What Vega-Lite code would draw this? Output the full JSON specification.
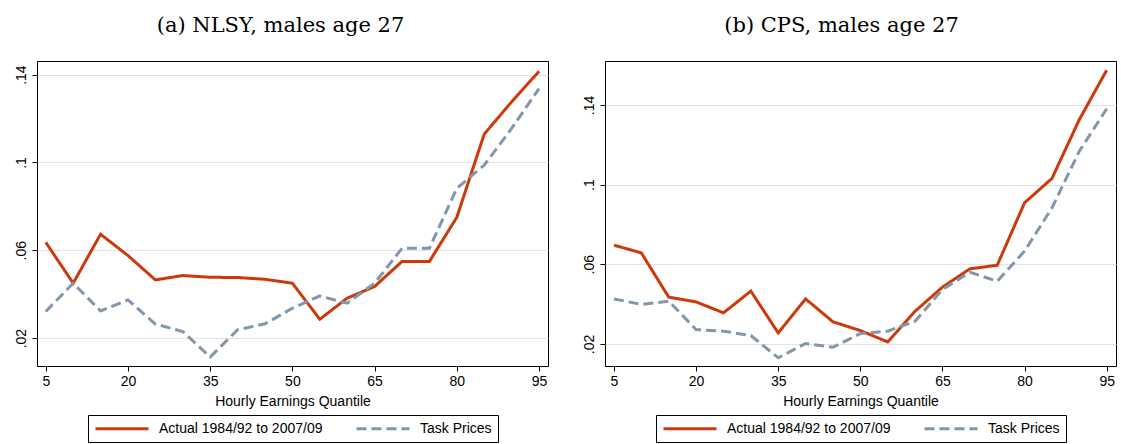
{
  "$schema": "https://vega.github.io/schema/vega-lite/v6.json",
  "padding": {"left": 13, "top": 14, "right": 2, "bottom": 0},
  "background": "white",
  "datasets": {
    "nlsy": [
      {"q": 5, "series": "Actual 1984/92 to 2007/09", "value": 0.0636},
      {"q": 10, "series": "Actual 1984/92 to 2007/09", "value": 0.045},
      {"q": 15, "series": "Actual 1984/92 to 2007/09", "value": 0.0673},
      {"q": 20, "series": "Actual 1984/92 to 2007/09", "value": 0.0576},
      {"q": 25, "series": "Actual 1984/92 to 2007/09", "value": 0.0465},
      {"q": 30, "series": "Actual 1984/92 to 2007/09", "value": 0.0485},
      {"q": 35, "series": "Actual 1984/92 to 2007/09", "value": 0.0477},
      {"q": 40, "series": "Actual 1984/92 to 2007/09", "value": 0.0476},
      {"q": 45, "series": "Actual 1984/92 to 2007/09", "value": 0.0468},
      {"q": 50, "series": "Actual 1984/92 to 2007/09", "value": 0.045},
      {"q": 55, "series": "Actual 1984/92 to 2007/09", "value": 0.0286},
      {"q": 60, "series": "Actual 1984/92 to 2007/09", "value": 0.0382},
      {"q": 65, "series": "Actual 1984/92 to 2007/09", "value": 0.0435},
      {"q": 70, "series": "Actual 1984/92 to 2007/09", "value": 0.0549},
      {"q": 75, "series": "Actual 1984/92 to 2007/09", "value": 0.0549},
      {"q": 80, "series": "Actual 1984/92 to 2007/09", "value": 0.075},
      {"q": 85, "series": "Actual 1984/92 to 2007/09", "value": 0.1129},
      {"q": 90, "series": "Actual 1984/92 to 2007/09", "value": 0.1276},
      {"q": 95, "series": "Actual 1984/92 to 2007/09", "value": 0.1415},
      {"q": 5, "series": "Task Prices", "value": 0.0321},
      {"q": 10, "series": "Task Prices", "value": 0.045},
      {"q": 15, "series": "Task Prices", "value": 0.0324},
      {"q": 20, "series": "Task Prices", "value": 0.0374},
      {"q": 25, "series": "Task Prices", "value": 0.0264},
      {"q": 30, "series": "Task Prices", "value": 0.023},
      {"q": 35, "series": "Task Prices", "value": 0.0114},
      {"q": 40, "series": "Task Prices", "value": 0.0238},
      {"q": 45, "series": "Task Prices", "value": 0.0265},
      {"q": 50, "series": "Task Prices", "value": 0.0336},
      {"q": 55, "series": "Task Prices", "value": 0.0392},
      {"q": 60, "series": "Task Prices", "value": 0.0359},
      {"q": 65, "series": "Task Prices", "value": 0.045},
      {"q": 70, "series": "Task Prices", "value": 0.0609},
      {"q": 75, "series": "Task Prices", "value": 0.0609},
      {"q": 80, "series": "Task Prices", "value": 0.0882},
      {"q": 85, "series": "Task Prices", "value": 0.0988},
      {"q": 90, "series": "Task Prices", "value": 0.1155},
      {"q": 95, "series": "Task Prices", "value": 0.1336}
    ],
    "cps": [
      {"q": 5, "series": "Actual 1984/92 to 2007/09", "value": 0.0696},
      {"q": 10, "series": "Actual 1984/92 to 2007/09", "value": 0.0657},
      {"q": 15, "series": "Actual 1984/92 to 2007/09", "value": 0.0435},
      {"q": 20, "series": "Actual 1984/92 to 2007/09", "value": 0.0411},
      {"q": 25, "series": "Actual 1984/92 to 2007/09", "value": 0.0356},
      {"q": 30, "series": "Actual 1984/92 to 2007/09", "value": 0.0465},
      {"q": 35, "series": "Actual 1984/92 to 2007/09", "value": 0.0255},
      {"q": 40, "series": "Actual 1984/92 to 2007/09", "value": 0.0426},
      {"q": 45, "series": "Actual 1984/92 to 2007/09", "value": 0.0311},
      {"q": 50, "series": "Actual 1984/92 to 2007/09", "value": 0.0267},
      {"q": 55, "series": "Actual 1984/92 to 2007/09", "value": 0.021},
      {"q": 60, "series": "Actual 1984/92 to 2007/09", "value": 0.0364},
      {"q": 65, "series": "Actual 1984/92 to 2007/09", "value": 0.0485},
      {"q": 70, "series": "Actual 1984/92 to 2007/09", "value": 0.0577},
      {"q": 75, "series": "Actual 1984/92 to 2007/09", "value": 0.0595},
      {"q": 80, "series": "Actual 1984/92 to 2007/09", "value": 0.0909},
      {"q": 85, "series": "Actual 1984/92 to 2007/09", "value": 0.1031},
      {"q": 90, "series": "Actual 1984/92 to 2007/09", "value": 0.1327},
      {"q": 95, "series": "Actual 1984/92 to 2007/09", "value": 0.1575},
      {"q": 5, "series": "Task Prices", "value": 0.0426},
      {"q": 10, "series": "Task Prices", "value": 0.0398},
      {"q": 15, "series": "Task Prices", "value": 0.0415},
      {"q": 20, "series": "Task Prices", "value": 0.0272},
      {"q": 25, "series": "Task Prices", "value": 0.0264},
      {"q": 30, "series": "Task Prices", "value": 0.0242},
      {"q": 35, "series": "Task Prices", "value": 0.013},
      {"q": 40, "series": "Task Prices", "value": 0.0202},
      {"q": 45, "series": "Task Prices", "value": 0.0183},
      {"q": 50, "series": "Task Prices", "value": 0.0252},
      {"q": 55, "series": "Task Prices", "value": 0.0264},
      {"q": 60, "series": "Task Prices", "value": 0.0314},
      {"q": 65, "series": "Task Prices", "value": 0.0473},
      {"q": 70, "series": "Task Prices", "value": 0.056},
      {"q": 75, "series": "Task Prices", "value": 0.0515},
      {"q": 80, "series": "Task Prices", "value": 0.0666},
      {"q": 85, "series": "Task Prices", "value": 0.0883},
      {"q": 90, "series": "Task Prices", "value": 0.1168},
      {"q": 95, "series": "Task Prices", "value": 0.1381}
    ]
  },
  "spacing": 57,
  "bounds": "flush",
  "resolve": {"scale": {"y": "independent"}, "legend": {"color": "independent", "strokeDash": "independent"}},
  "hconcat": [
    {
      "width": 511,
      "height": 305,
      "title": {"text": "(a) NLSY, males age 27", "dx": -12},
      "data": {"name": "nlsy"},
      "mark": {"type": "line", "strokeWidth": 3, "strokeCap": "butt", "strokeJoin": "miter"},
      "encoding": {
        "x": {"field": "q", "type": "quantitative", "title": "Hourly Earnings Quantile",
              "scale": {"domain": [3.4, 96.64], "nice": false, "zero": false},
              "axis": {"values": [5, 20, 35, 50, 65, 80, 95], "grid": false}},
        "y": {"field": "value", "type": "quantitative", "title": null,
              "scale": {"domain": [0.0073, 0.1462], "nice": false, "zero": false},
              "axis": {"values": [0.02, 0.06, 0.1, 0.14], "labelExpr": "substring(format(datum.value, '.2~f'), 1)"}},
        "color": {"field": "series", "type": "nominal", "scale": {"domain": ["Actual 1984/92 to 2007/09", "Task Prices"], "range": ["#CC3A0C", "#8296AC"]}, "legend": {"title": null}},
        "strokeDash": {"field": "series", "type": "nominal", "scale": {"domain": ["Actual 1984/92 to 2007/09", "Task Prices"], "range": [[1, 0], [10, 5]]}, "legend": {"title": null}}
      }
    },
    {
      "width": 511,
      "height": 305,
      "title": {"text": "(b) CPS, males age 27", "dx": -19},
      "data": {"name": "cps"},
      "mark": {"type": "line", "strokeWidth": 3, "strokeCap": "butt", "strokeJoin": "miter"},
      "encoding": {
        "x": {"field": "q", "type": "quantitative", "title": "Hourly Earnings Quantile",
              "scale": {"domain": [3.36, 96.7], "nice": false, "zero": false},
              "axis": {"values": [5, 20, 35, 50, 65, 80, 95], "grid": false}},
        "y": {"field": "value", "type": "quantitative", "title": null,
              "scale": {"domain": [0.0089, 0.1621], "nice": false, "zero": false},
              "axis": {"values": [0.02, 0.06, 0.1, 0.14], "labelExpr": "substring(format(datum.value, '.2~f'), 1)"}},
        "color": {"field": "series", "type": "nominal", "scale": {"domain": ["Actual 1984/92 to 2007/09", "Task Prices"], "range": ["#CC3A0C", "#8296AC"]}, "legend": {"title": null}},
        "strokeDash": {"field": "series", "type": "nominal", "scale": {"domain": ["Actual 1984/92 to 2007/09", "Task Prices"], "range": [[1, 0], [10, 5]]}, "legend": {"title": null}}
      }
    }
  ],
  "config": {
    "font": "Liberation Sans",
    "view": {"stroke": "#000000", "strokeWidth": 1},
    "title": {"font": "DejaVu Serif", "fontSize": 21, "fontWeight": "normal", "color": "#000000", "anchor": "middle", "baseline": "alphabetic", "offset": 25, "frame": "group"},
    "axis": {
      "domain": false,
      "tickColor": "#000000",
      "tickSize": 5,
      "tickWidth": 1,
      "labelFont": "Liberation Sans",
      "labelFontSize": 14,
      "labelColor": "#000000",
      "titleFont": "Liberation Sans",
      "titleFontSize": 14,
      "titleFontWeight": "normal",
      "titleColor": "#000000",
      "gridColor": "#e3e3e3",
      "gridWidth": 1
    },
    "axisX": {"labelPadding": 3, "titlePadding": 6},
    "axisY": {"labelAngle": -90, "labelAlign": "center", "labelBaseline": "bottom", "labelPadding": 4},
    "legend": {
      "orient": "bottom",
      "direction": "horizontal",
      "strokeColor": "#000000",
      "padding": 6,
      "offset": 7,
      "symbolType": "M-4.42,0H4.42",
      "symbolSize": 144,
      "symbolStrokeWidth": 3,
      "symbolOffset": 20.5,
      "labelFont": "Liberation Sans",
      "labelFontSize": 14,
      "labelLimit": 400,
      "labelColor": "#000000",
      "labelOffset": 29.5,
      "columnPadding": 27,
      "layout": {"bottom": {"anchor": "middle"}}
    }
  }
}
